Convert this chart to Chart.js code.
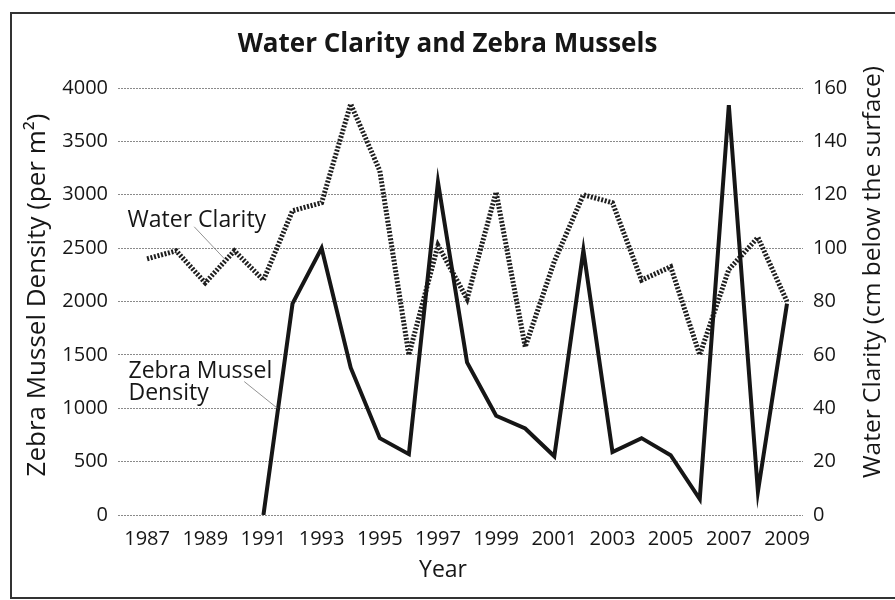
<!DOCTYPE html>
<html>
<head>
<meta charset="utf-8">
<script src="https://cdn.jsdelivr.net/npm/chart.js@4.4.1/dist/chart.umd.min.js"></script>
<style>
  html, body { margin: 0; padding: 0; background: #fff; }
  #wrap { position: relative; width: 895px; height: 600px; }
</style>
</head>
<body>
<div id="wrap"><canvas id="chart"></canvas></div>
<script>
/* ── Data ── */
const years = [1987, 1988, 1989, 1990, 1991, 1992, 1993, 1994, 1995, 1996, 1997, 1998,
               1999, 2000, 2001, 2002, 2003, 2004, 2005, 2006, 2007, 2008, 2009];
const musselDensity = [null, null, null, null, 0, 1980, 2500, 1380, 720, 570, 3120, 1430,
                       930, 810, 550, 2480, 590, 720, 560, 150, 3840, 220, 1980];
const waterClarity = [96, 99, 87, 99, 88, 114, 117, 154, 129, 60, 101, 81,
                      121, 63, 95, 120, 117, 88, 93, 60, 92, 104, 80];
const yearTicks = [1987, 1989, 1991, 1993, 1995, 1997, 1999, 2001, 2003, 2005, 2007, 2009];

const FONT = "'Open Sans', 'Noto Sans', sans-serif";
const INK = '#161616';

function rotatedText(ctx, text, cx, cy, size) {
    ctx.save();
    ctx.translate(cx, cy);
    ctx.rotate(-Math.PI / 2);
    ctx.font = `${size}px ${FONT}`;
    ctx.textAlign = 'center';
    ctx.textBaseline = 'middle';
    ctx.fillText(text, 0, 0);
    ctx.restore();
}

/* ── Extra drawing: frame, axis titles, inline labels with leader lines ── */
const decorations = {
    id: 'decorations',
    afterDraw(chart) {
        const { ctx, scales } = chart;
        const x = scales.x, yl = scales.yLeft, yr = scales.yRight;
        ctx.save();
        // outer frame
        ctx.strokeStyle = '#333';
        ctx.lineWidth = 2;
        ctx.strokeRect(11, 13, 900, 585);

        ctx.fillStyle = INK;
        ctx.font = `23px ${FONT}`;
        ctx.textAlign = 'center';
        ctx.textBaseline = 'middle';
        ctx.fillText('Year', 443, 570);

        // axis titles (both read bottom to top)
        rotatedText(ctx, 'Zebra Mussel Density (per m²)', 38, 295, 26);
        rotatedText(ctx, 'Water Clarity (cm below the surface)', 873, 272, 24.5);

        // inline series labels
        ctx.font = `23px ${FONT}`;
        ctx.textAlign = 'left';
        ctx.textBaseline = 'alphabetic';
        ctx.fillText('Water Clarity', x.getPixelForValue(1986.33), yl.getPixelForValue(2700));
        ctx.fillText('Zebra Mussel', x.getPixelForValue(1986.36), yl.getPixelForValue(1284));
        ctx.fillText('Density', x.getPixelForValue(1986.36), yl.getPixelForValue(1078));

        // leader lines
        ctx.strokeStyle = '#777';
        ctx.lineWidth = 0.8;
        ctx.beginPath();
        ctx.moveTo(x.getPixelForValue(1988.62), yr.getPixelForValue(108));
        ctx.lineTo(x.getPixelForValue(1989.66), yr.getPixelForValue(96));
        ctx.moveTo(x.getPixelForValue(1990.34), yl.getPixelForValue(1250));
        ctx.lineTo(x.getPixelForValue(1991.48), yl.getPixelForValue(1000));
        ctx.stroke();
        ctx.restore();
    }
};

new Chart(document.getElementById('chart'), {
    type: 'line',
    data: {
        datasets: [
            {
                label: 'Zebra Mussel Density',
                data: years.map((y, i) => ({ x: y, y: musselDensity[i] })),
                yAxisID: 'yLeft',
                borderColor: INK,
                borderWidth: 4,
                pointRadius: 0,
                tension: 0,
                spanGaps: false
            },
            {
                label: 'Water Clarity',
                data: years.map((y, i) => ({ x: y, y: waterClarity[i] })),
                yAxisID: 'yRight',
                borderColor: '#1e1e1e',
                borderWidth: 5,
                borderDash: [2, 1.6],
                pointRadius: 0,
                tension: 0
            }
        ]
    },
    options: {
        responsive: true,
        maintainAspectRatio: false,
        animation: false,
        layout: { padding: 0 },
        plugins: {
            legend: { display: false },
            tooltip: { enabled: false },
            title: {
                display: true,
                text: 'Water Clarity and Zebra Mussels',
                color: INK,
                font: { family: FONT, size: 26, weight: 'bold' },
                padding: { top: 29.4, bottom: 27.4 }
            }
        },
        scales: {
            x: {
                type: 'linear',
                min: 1986,
                max: 2009.55,
                afterBuildTicks: s => { s.ticks = yearTicks.map(v => ({ value: v })); },
                afterFit: s => { s.height = 85; },
                grid: { display: false, drawTicks: false },
                border: { display: false },
                ticks: {
                    color: INK, padding: 12, maxRotation: 0, autoSkip: false,
                    font: { family: FONT, size: 20 },
                    callback: v => String(v)
                }
            },
            yLeft: {
                position: 'left',
                min: 0, max: 4000,
                afterFit: s => { s.width = 118; },
                grid: { color: '#8a8a8a', lineWidth: 1, drawTicks: false },
                border: { display: false, dash: [2, 1] },
                ticks: {
                    stepSize: 500, color: INK, padding: 10,
                    font: { family: FONT, size: 20 },
                    callback: v => String(v)
                }
            },
            yRight: {
                position: 'right',
                min: 0, max: 160,
                afterFit: s => { s.width = 92; },
                grid: { display: false, drawTicks: false },
                border: { display: false },
                ticks: {
                    stepSize: 20, color: INK, padding: 10,
                    font: { family: FONT, size: 20 },
                    callback: v => String(v)
                }
            }
        }
    },
    plugins: [decorations]
});
</script>
</body>
</html>
